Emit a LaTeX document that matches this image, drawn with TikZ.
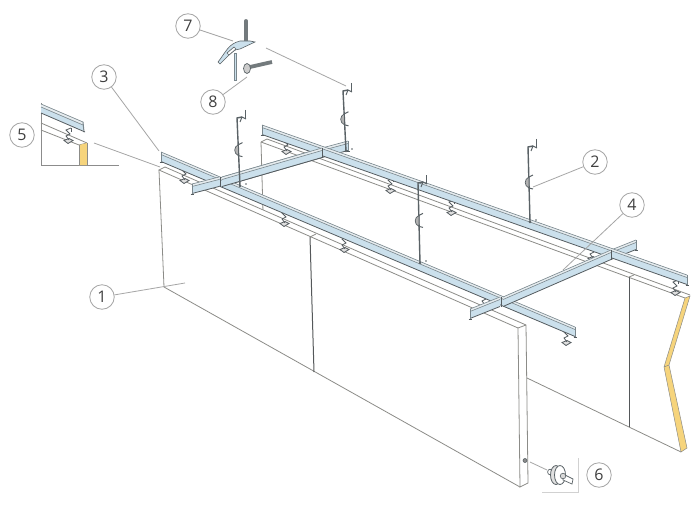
\documentclass[tikz,border=0pt]{standalone}
\usepackage{fontspec}
\setmainfont{Open Sans}
\definecolor{railblue}{HTML}{CBE0EC}
\definecolor{railtop}{HTML}{E6ECEF}
\definecolor{railline}{HTML}{79868C}
\definecolor{raildark}{HTML}{555C60}
\definecolor{wallline}{HTML}{8C8C88}
\definecolor{seamline}{HTML}{55585A}
\definecolor{leadline}{HTML}{A6A6A6}
\definecolor{panelyellow}{HTML}{F6D47C}
\definecolor{rodcol}{HTML}{5A6266}
\tikzset{
  callout/.style={circle,draw=leadline,line width=0.8pt,fill=white,minimum size=24.5pt,inner sep=0pt,font=\fontsize{16}{16}\selectfont,text=black!75},
  leader/.style={draw=leadline,line width=0.8pt},
  wall/.style={draw=wallline,line width=0.8pt},
  seam/.style={draw=seamline,line width=1pt},
  railout/.style={draw=railline,line width=0.6pt},
  raillow/.style={draw=raildark,line width=0.8pt},
  rod/.style={draw=rodcol,line width=1.4pt},
  clipstroke/.style={draw=raildark,line width=0.8pt},
  thinbox/.style={draw=black!18,line width=0.8pt},
}
\newcommand\railseg[4]{%
  \fill[railblue] (#1,#2) -- (#3,#4) -- (#3,#4+9.5) -- (#1,#2+9.5) -- cycle;
  \fill[railtop] (#1,#2) -- (#3,#4) -- (#3,#4+2.5) -- (#1,#2+2.5) -- cycle;
  \draw[railout] (#1,#2) -- (#3,#4);
  \draw[railout] (#1,#2+2.5) -- (#3,#4+2.5);
  \draw[raillow] (#1,#2+9.5) -- (#3,#4+9.5);
}
\newcommand\railend[2]{%
  \draw[railout,line width=1pt] (#1,#2) -- (#1,#2+10);
  \draw[raillow,line width=0.8pt] (#1-1.5,#2+10.5) -- (#1+2,#2+10.5);
}
\newcommand\clipmark[2]{%
  \draw[clipstroke,fill=black!12] (#1-4,#2+5.5) -- (#1+1,#2+3.5) -- (#1+5,#2+5.5) -- (#1,#2+8.5) -- cycle;
  \draw[clipstroke] (#1+3,#2-7) -- (#1-2,#2-5) -- (#1+2,#2-1) -- (#1-2,#2+1) -- (#1+1,#2+5);
  \draw[clipstroke] (#1+3,#2-7) -- (#1+3,#2-3);
}
\newcommand\hanger[4]{%
  \draw[rod] (#3,#4) -- (#1,#2) -- (#1+5,#2-1);
  \draw[rod,line width=1pt] (#1+3,#2+4) -- (#1+5,#2-1) -- (#1+9,#2+1);
  \draw[rod,line width=1pt] (#1+8,#2-8) -- (#1+8,#2+1);
  \draw[rodcol,line width=0.7pt,fill=black!30] ({#1+(#3-#1)*0.48},{#2+(#4-#2)*0.48-6}) .. controls ({#1+(#3-#1)*0.48-5},{#2+(#4-#2)*0.48-4}) and ({#1+(#3-#1)*0.48-5},{#2+(#4-#2)*0.48+3}) .. ({#1+(#3-#1)*0.48},{#2+(#4-#2)*0.48+5}) -- cycle;
  \draw[rod,line width=1pt] ({#1+(#3-#1)*0.48},{#2+(#4-#2)*0.48-6}) -- ({#1+(#3-#1)*0.48+4},{#2+(#4-#2)*0.48-8});
  \draw[rod,line width=1pt] ({#1+(#3-#1)*0.48},{#2+(#4-#2)*0.48+5}) -- ({#1+(#3-#1)*0.48+4},{#2+(#4-#2)*0.48+6});
  \fill[rodcol] (#3,#4) circle (1.3) (#3+6,#4-2) circle (0.8);
}
\begin{document}
\begin{tikzpicture}[x=1pt,y=-1pt]
\useasboundingbox (0,0) rectangle (700,513);
\fill[white] (0,0) rectangle (700,513);

% back wall
\draw[wall] (261,142) -- (685,298) (267,139) -- (690,295);
\draw[wall] (261,142) -- (267,139);
\draw[wall] (261,142) -- (263,212);
\draw[wall] (527,378) -- (681,452);
\draw[seam] (629,277) -- (629,427);
\draw[wall] (629,277) -- (634,275);
\fill[panelyellow] (685,298) -- (690,296) -- (669,365) -- (687,448) -- (681,452) -- (664,367) -- cycle;
\draw[draw=wallline,line width=0.5pt] (685,298) -- (690,296) -- (669,365) -- (687,448) -- (681,452) -- (664,367) -- cycle (664,367) -- (669,365);
\clipmark{286}{146}
\clipmark{390}{185}
\clipmark{451}{207}
\clipmark{592}{253}
\clipmark{675}{287}

% front wall
\fill[white] (159,170) -- (165,167) -- (526,325) -- (528,483) -- (520,487) -- (164,287) -- cycle;
\draw[wall] (165,167) -- (526,325) -- (528,483) -- (520,487) -- (518,328) -- (526,325);
\draw[wall] (165,167) -- (159,170) -- (518,328);
\draw[wall] (159,170) -- (164,287) -- (520,487);
\draw[seam] (310,237) -- (314,372);
\draw[wall] (310,237) -- (316,234);
\clipmark{184}{175}
\clipmark{284}{218}
\clipmark{344}{244}
\clipmark{484}{300}
\clipmark{566}{337}

% cross stubs behind the runners
\railseg{322}{148}{348}{141}
\railseg{611}{250}{636}{240}
\railend{636}{240}
\railend{348}{141}
\railseg{222}{177}{322}{148}
% main runners
\railseg{262}{125}{687}{275}
\railend{262}{125}
\railend{687}{275}
\railseg{161}{152}{575}{327}
\railend{161}{152}
\railend{575}{327}
% cross pieces over the runners
\railseg{192}{184}{219}{177}
\railend{192}{184}
\railseg{222}{177}{322}{148}
\railseg{503}{297}{611}{250}
\railseg{470}{309}{500}{297}
\railend{470}{309}
\draw[raillow,line width=0.7pt] (220,177) -- (220,187) (322,148) -- (322,158) (501,297) -- (501,307) (611,250) -- (611,260);

% hangers
\hanger{237}{118}{240}{186}
\hanger{343}{91}{346}{151}
\hanger{418}{183}{420}{263}
\hanger{528}{147}{530}{222}

% inset 5
\draw[thinbox,draw=black!45] (41,103) -- (41,165) -- (119,165);
\draw[wall] (41,123) -- (87,143) (41,130) -- (79,145) -- (87,143);
\fill[panelyellow] (79,145) -- (87,143) -- (87,165) -- (79,165) -- cycle;
\draw[draw=wallline,line width=0.4pt] (79,145) -- (79,165) (87,143) -- (87,165);
\fill[railblue] (41,107) -- (83,125) -- (83,131) -- (41,113) -- cycle;
\fill[railtop] (41,104) -- (83,122) -- (83,125) -- (41,107) -- cycle;
\draw[railout] (41,104) -- (83,122) (41,107) -- (83,125);
\draw[railout,line width=1pt] (83,122) -- (84,132);
\draw[raillow] (41,113) -- (85,132);
\clipmark{68}{135}

% item 7
\draw[rodcol!85,line width=3.8pt,line cap=round] (246,21) -- (246,41);
\draw[draw=railline,fill=railblue,line width=0.6pt] (234,80) -- (234,53) -- (236.5,53) -- (236.5,80) -- cycle;
\draw[draw=rodcol,fill=railblue,line width=0.6pt] (255,42) -- (240,49) .. controls (234,49) and (231,53) .. (220,64) -- (218,62) .. controls (226,52) and (228,44) .. (240,41) -- (250,41) -- cycle;
\draw[draw=rodcol,fill=white,line width=0.6pt] (227,53) -- (234,47) -- (236,49) -- (229,55) -- cycle;

% item 8
\draw[rodcol!85,line width=3.8pt] (250,67) -- (272,62);
\draw[draw=rodcol,fill=black!20,line width=0.7pt] (247,68.5) circle[x radius=3.5,y radius=5];

% item 6
\draw[rodcol,line width=0.6pt,fill=black!45] (525,460.5) circle (2);
\draw[leader] (530,462) -- (547,470);
\draw[thinbox] (578,458) -- (578,492.5) -- (542,492.5);
\draw[draw=rodcol,fill=white,line width=0.7pt] (550,472) ellipse (2.4 and 2.8);
\draw[draw=rodcol,fill=black!12,line width=0.8pt] (556,475) ellipse (5.5 and 9.5);
\draw[draw=rodcol,fill=white,line width=0.8pt] (560,475) ellipse (5.5 and 9.5);
\draw[draw=rodcol,fill=white,line width=0.7pt] (563,474) -- (573,479) -- (572,484) -- (563,480) -- cycle;
\draw[draw=rodcol,fill=black!15,line width=0.6pt] (563,476) circle (2.8);

% callouts
\node[callout] (c1) at (102,297) {1};
\node[callout] (c2) at (595,162) {2};
\node[callout] (c3) at (104,77) {3};
\node[callout] (c4) at (632,205) {4};
\node[callout] (c5) at (22,135) {5};
\node[callout] (c6) at (599,475) {6};
\node[callout] (c7) at (188,26) {7};
\node[callout] (c8) at (213,102) {8};
\coordinate (p1) at (185,283);
\coordinate (p2) at (533,187);
\coordinate (p3) at (159,151);
\coordinate (p4) at (563,270);
\coordinate (p5a) at (94,143);
\coordinate (p5b) at (160,167);
\coordinate (p7) at (233,41);
\coordinate (p8) at (247,77);
\coordinate (p9a) at (266,48);
\coordinate (p9b) at (346,86);
\draw[leader] (c1) -- (p1);
\draw[leader] (c2) -- (p2);
\draw[leader] (c3) -- (p3);
\draw[leader] (c4) -- (p4);
\draw[leader] (p5a) -- (p5b);
\draw[leader] (c7) -- (p7);
\draw[leader] (c8) -- (p8);
\draw[leader] (p9a) -- (p9b);
\end{tikzpicture}
\end{document}
